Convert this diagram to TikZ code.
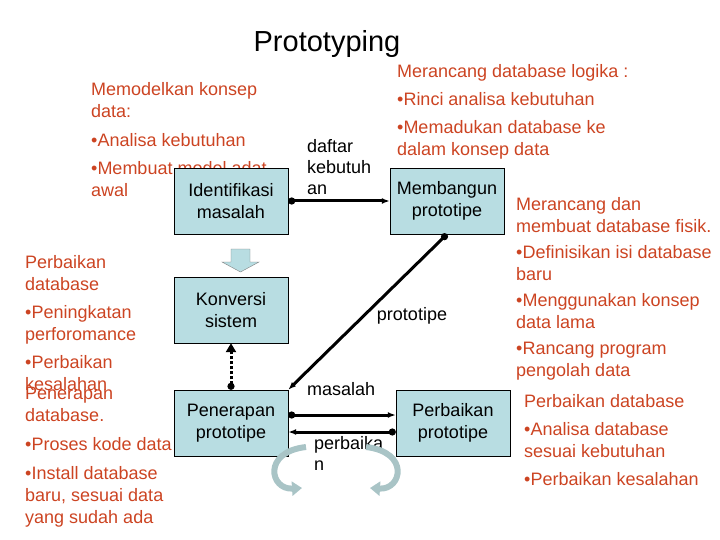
\documentclass[tikz,border=0pt]{standalone}
\usepackage{fontspec}
\setmainfont{Liberation Sans}
\usetikzlibrary{arrows.meta,positioning}
\definecolor{boxfill}{HTML}{B8DDE2}
\definecolor{notered}{HTML}{CC4422}
\definecolor{curlfill}{HTML}{A9C4C6}
\tikzset{
  stage/.style={draw, fill=boxfill, minimum width=114pt, minimum height=66pt, align=center, font=\fontsize{18}{22}\selectfont},
  note/.style={text=notered, align=left, anchor=north west, inner sep=0pt, font=\fontsize{18}{22}\selectfont},
  lbl/.style={align=left, anchor=north west, inner sep=0pt, font=\fontsize{18}{21}\selectfont},
  flow/.style={line width=3pt, {Circle[length=7pt]}-{Latex[length=8pt]}},
}
\newcommand{\bul}{•}
\begin{document}
\begin{tikzpicture}[x=1pt, y=-1pt]
\useasboundingbox (0,0) rectangle (720,540);
\node[font=\fontsize{29}{32}\selectfont] (title) at (327,44) {Prototyping};

% notes
\node[note] (mk) at (91,82) {Memodelkan konsep\\data:};
\node[note] (mk1) at (91,133) {\bul Analisa kebutuhan};
\node[note] (mk2) at (91,161) {\bul Membuat model adat\\awal};
\node[note] (pd) at (25,255) {Perbaikan\\database};
\node[note] (pd1) at (25,305) {\bul Peningkatan\\perforomance};
\node[note] (pd2) at (25,355) {\bul Perbaikan\\kesalahan};
\node[note] (pn) at (25,387) {Penerapan\\database.};
\node[note] (pn1) at (25,437) {\bul Proses kode data};
\node[note] (pn2) at (25,466) {\bul Install database\\baru, sesuai data\\yang sudah ada};
\node[note] (ml) at (397,64) {Merancang database logika :};
\node[note] (ml1) at (397,92) {\bul Rinci analisa kebutuhan};
\node[note] (ml2) at (397,120) {\bul Memadukan database ke\\dalam konsep data};
\node[note] (mf) at (516,197) {Merancang dan\\membuat database fisik.};
\node[note] (mf1) at (516,245) {\bul Definisikan isi database\\baru};
\node[note] (mf2) at (516,293) {\bul Menggunakan konsep\\data lama};
\node[note] (mf3) at (516,342) {\bul Rancang program\\pengolah data};
\node[note] (pb) at (524,394) {Perbaikan database};
\node[note] (pb1) at (524,422) {\bul Analisa database\\sesuai kebutuhan};
\node[note] (pb2) at (524,472) {\bul Perbaikan kesalahan};

% stages
\node[stage] (ident) at (231,201) {Identifikasi\\masalah};
\node[stage] (bangun) at (447,201) {Membangun\\prototipe};
\node[stage] (konv) at (231,310) {Konversi\\sistem};
\node[stage] (terap) at (231,423) {Penerapan\\prototipe};
\node[stage] (baik) at (453,423) {Perbaikan\\prototipe};

% labels
\node[lbl] (daftar) at (307,139) {daftar\\kebutuh\\an};
\node[lbl, anchor=center] (proto) at (412,316) {prototipe};
\node[lbl] (msl) at (307,382) {masalah};
\node[lbl] (perb) at (314,436) {perbaika\\n};

% connectors
\draw[flow] (ident.east) -- (bangun.west);
\draw[flow] (bangun.south) -- (terap.north east);
\draw[line width=3pt, dotted, {Circle[length=7pt]}-{Triangle[length=9pt,width=10pt]}] (terap.north) -- (konv.south);
\draw[flow] ([yshift=8pt]terap.east) -- ([yshift=8pt]baik.west);
\draw[flow] ([yshift=-9pt]baik.west) -- ([yshift=-9pt]terap.east);

% block arrow
\draw[gray, fill=boxfill] (231,249) -- (250,249) -- (250,262) -- (259,262) -- (240.5,272) -- (222,262) -- (231,262) -- cycle;

% curl arrows
\draw[line width=6pt, curlfill, -{Triangle[length=10pt,width=14pt]}] (306,447) .. controls (262,452) and (270,490) .. (302,488);
\draw[line width=6pt, curlfill, -{Triangle[length=10pt,width=14pt]}] (366,447) .. controls (410,452) and (402,490) .. (370,488);
\end{tikzpicture}
\end{document}
